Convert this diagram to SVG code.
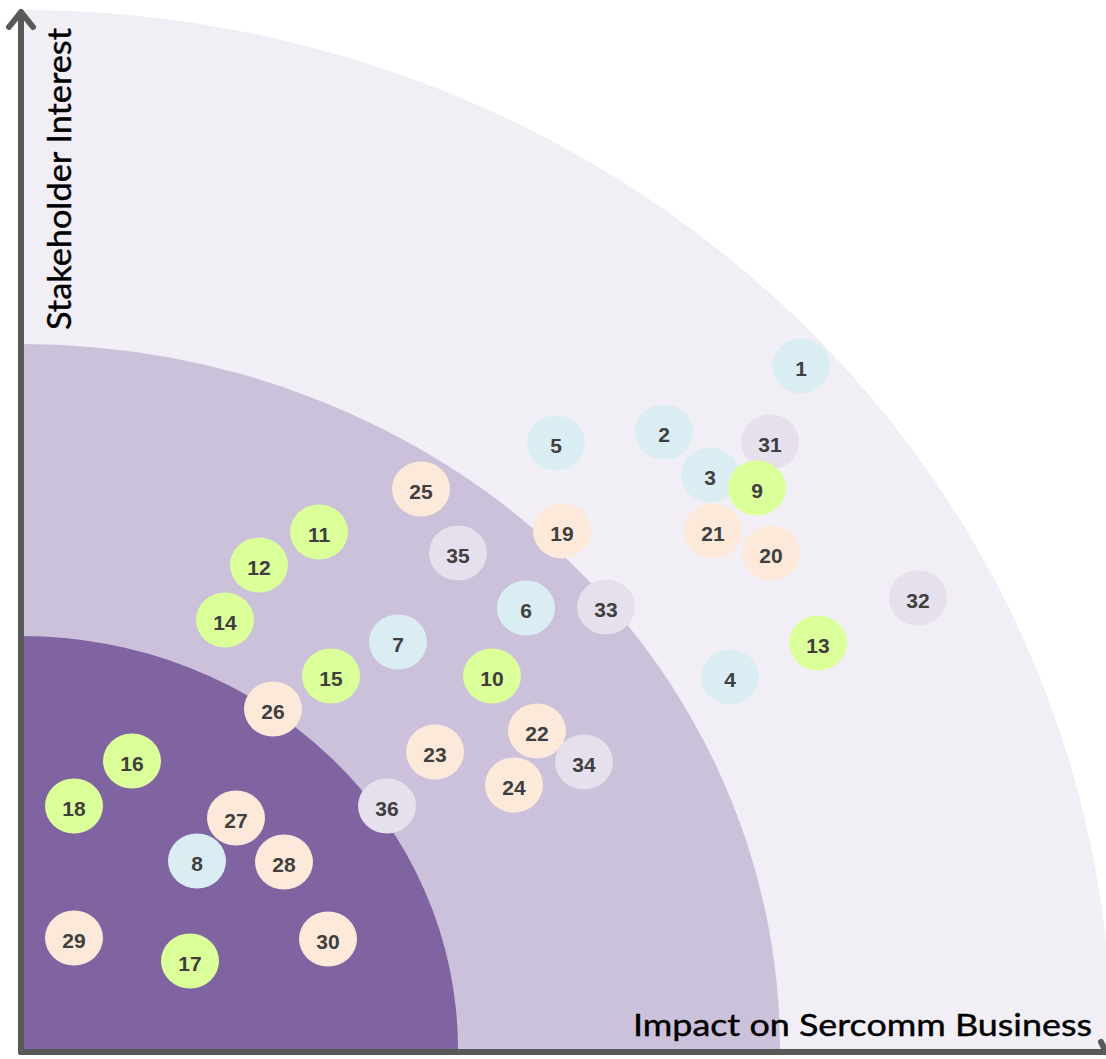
<svg xmlns="http://www.w3.org/2000/svg" width="1106" height="1059" viewBox="0 0 1106 1059">
<style>
.n ellipse{stroke:none}
.b{fill:#daedf2}.g{fill:#dbff99}.p{fill:#fde9d9}.v{fill:#e5e0ec}
.n text{font-family:"Liberation Sans",Arial,sans-serif;font-weight:bold;font-size:21px;fill:#3f3f3f;text-anchor:middle}
.ax{stroke:#595959;stroke-width:6;fill:none;stroke-linecap:round;stroke-linejoin:round}
.lbl{font-family:Lato,"Liberation Sans",sans-serif;fill:#000;stroke:#000;stroke-width:0.4}
</style>
<rect width="1106" height="1059" fill="#ffffff"/>
<g id="bands">
<path d="M22,1049 L22,10 A1090,1039 0 0 1 1112,1049 Z" fill="#f1eff5"/>
<path d="M22,1049 L22,344 A758,705 0 0 1 780,1049 Z" fill="#ccc1da"/>
<path d="M22,1049 L22,636 A436,413 0 0 1 458,1049 Z" fill="#8064a2"/>
</g>
<g id="nodes">
<g id="n1" class="n"><ellipse class="b" cx="801" cy="366" rx="29" ry="27.5"/><text x="801" y="376">1</text></g>
<g id="n2" class="n"><ellipse class="b" cx="664" cy="432" rx="29" ry="27.5"/><text x="664" y="442">2</text></g>
<g id="n3" class="n"><ellipse class="b" cx="710" cy="475" rx="29" ry="27.5"/><text x="710" y="485">3</text></g>
<g id="n4" class="n"><ellipse class="b" cx="730" cy="677" rx="29" ry="27.5"/><text x="730" y="687">4</text></g>
<g id="n5" class="n"><ellipse class="b" cx="556" cy="443" rx="29" ry="27.5"/><text x="556" y="453">5</text></g>
<g id="n6" class="n"><ellipse class="b" cx="526" cy="608" rx="29" ry="27.5"/><text x="526" y="618">6</text></g>
<g id="n7" class="n"><ellipse class="b" cx="398" cy="642" rx="29" ry="27.5"/><text x="398" y="652">7</text></g>
<g id="n8" class="n"><ellipse class="b" cx="197" cy="861" rx="29" ry="27.5"/><text x="197" y="871">8</text></g>
<g id="n31" class="n"><ellipse class="v" cx="770" cy="442" rx="29" ry="27.5"/><text x="770" y="452">31</text></g>
<g id="n9" class="n"><ellipse class="g" cx="757" cy="488" rx="29" ry="27.5"/><text x="757" y="498">9</text></g>
<g id="n10" class="n"><ellipse class="g" cx="492" cy="676" rx="29" ry="27.5"/><text x="492" y="686">10</text></g>
<g id="n11" class="n"><ellipse class="g" cx="319" cy="532" rx="29" ry="27.5"/><text x="319" y="542">11</text></g>
<g id="n12" class="n"><ellipse class="g" cx="259" cy="565" rx="29" ry="27.5"/><text x="259" y="575">12</text></g>
<g id="n13" class="n"><ellipse class="g" cx="818" cy="643" rx="29" ry="27.5"/><text x="818" y="653">13</text></g>
<g id="n14" class="n"><ellipse class="g" cx="225" cy="620" rx="29" ry="27.5"/><text x="225" y="630">14</text></g>
<g id="n15" class="n"><ellipse class="g" cx="331" cy="676" rx="29" ry="27.5"/><text x="331" y="686">15</text></g>
<g id="n16" class="n"><ellipse class="g" cx="132" cy="761" rx="29" ry="27.5"/><text x="132" y="771">16</text></g>
<g id="n17" class="n"><ellipse class="g" cx="190" cy="961" rx="29" ry="27.5"/><text x="190" y="971">17</text></g>
<g id="n18" class="n"><ellipse class="g" cx="74" cy="806" rx="29" ry="27.5"/><text x="74" y="816">18</text></g>
<g id="n19" class="n"><ellipse class="p" cx="562" cy="531" rx="29" ry="27.5"/><text x="562" y="541">19</text></g>
<g id="n20" class="n"><ellipse class="p" cx="771" cy="553" rx="29" ry="27.5"/><text x="771" y="563">20</text></g>
<g id="n21" class="n"><ellipse class="p" cx="713" cy="531" rx="29" ry="27.5"/><text x="713" y="541">21</text></g>
<g id="n22" class="n"><ellipse class="p" cx="537" cy="731" rx="29" ry="27.5"/><text x="537" y="741">22</text></g>
<g id="n23" class="n"><ellipse class="p" cx="435" cy="752" rx="29" ry="27.5"/><text x="435" y="762">23</text></g>
<g id="n24" class="n"><ellipse class="p" cx="514" cy="785" rx="29" ry="27.5"/><text x="514" y="795">24</text></g>
<g id="n25" class="n"><ellipse class="p" cx="421" cy="489" rx="29" ry="27.5"/><text x="421" y="499">25</text></g>
<g id="n26" class="n"><ellipse class="p" cx="273" cy="709" rx="29" ry="27.5"/><text x="273" y="719">26</text></g>
<g id="n27" class="n"><ellipse class="p" cx="236" cy="818" rx="29" ry="27.5"/><text x="236" y="828">27</text></g>
<g id="n28" class="n"><ellipse class="p" cx="284" cy="862" rx="29" ry="27.5"/><text x="284" y="872">28</text></g>
<g id="n29" class="n"><ellipse class="p" cx="74" cy="938" rx="29" ry="27.5"/><text x="74" y="948">29</text></g>
<g id="n30" class="n"><ellipse class="p" cx="328" cy="939" rx="29" ry="27.5"/><text x="328" y="949">30</text></g>
<g id="n32" class="n"><ellipse class="v" cx="918" cy="598" rx="29" ry="27.5"/><text x="918" y="608">32</text></g>
<g id="n33" class="n"><ellipse class="v" cx="606" cy="607" rx="29" ry="27.5"/><text x="606" y="617">33</text></g>
<g id="n34" class="n"><ellipse class="v" cx="584" cy="762" rx="29" ry="27.5"/><text x="584" y="772">34</text></g>
<g id="n35" class="n"><ellipse class="v" cx="458" cy="553" rx="29" ry="27.5"/><text x="458" y="563">35</text></g>
<g id="n36" class="n"><ellipse class="v" cx="387" cy="806" rx="29" ry="27.5"/><text x="387" y="816">36</text></g>
</g>
<g id="connectors">
<path class="ax" d="M21,1052 L21,12 M9,27 L21,12 L33,27"/>
<path class="ax" d="M21,1052 L1104,1052 M1101,1042 L1106,1052"/>
</g>
<g id="labels">
<text class="lbl" transform="translate(71,330) rotate(-90)" font-size="32" textLength="302" lengthAdjust="spacingAndGlyphs">Stakeholder Interest</text>
<text class="lbl" x="633" y="1036" font-size="30" textLength="459" lengthAdjust="spacingAndGlyphs">Impact on Sercomm Business</text>
</g>
</svg>
